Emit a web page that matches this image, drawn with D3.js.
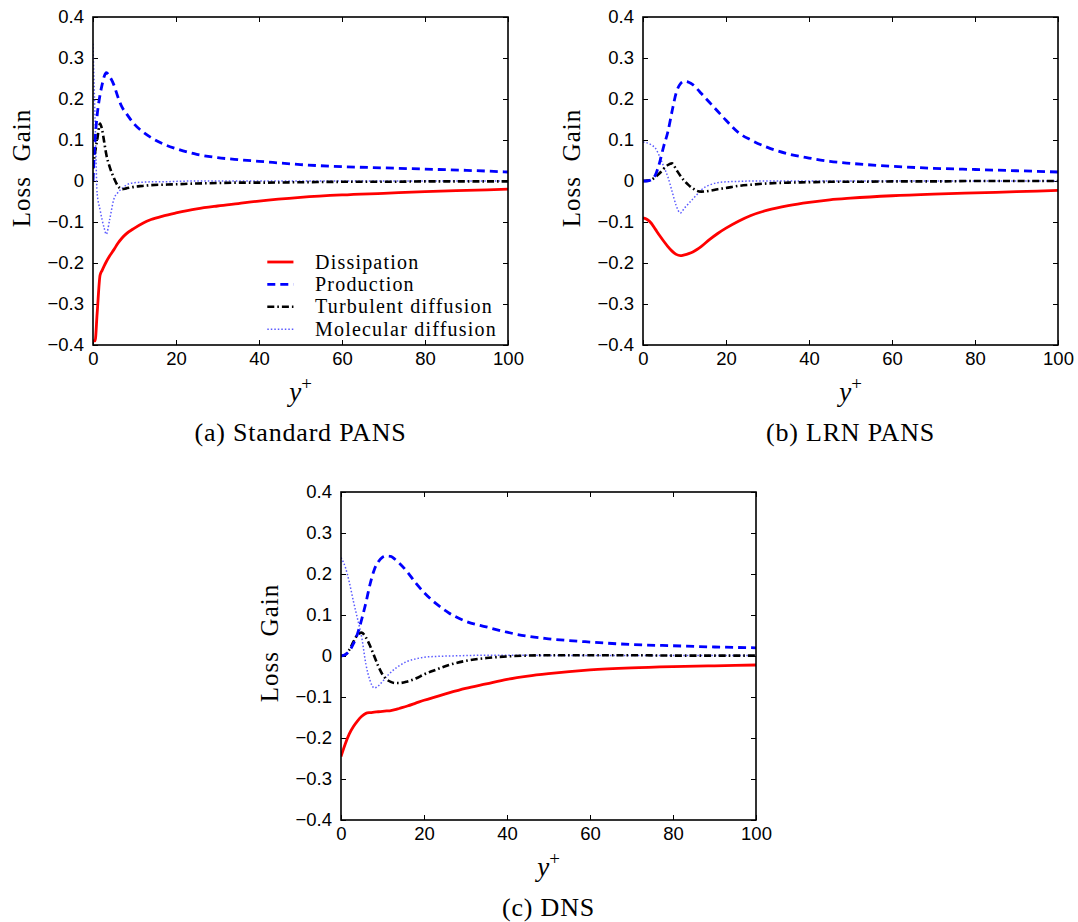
<!DOCTYPE html>
<html>
<head>
<meta charset="utf-8">
<script src="https://cdn.jsdelivr.net/npm/d3@7/dist/d3.min.js"></script>
<style>
  html, body { margin: 0; padding: 0; background: #fff; }
  svg { display: block; }
</style>
</head>
<body>
<div id="chart"></div>
<script>
// ---------------- DATA ----------------
const seriesNames = ["Dissipation", "Production", "Turbulent diffusion", "Molecular diffusion"];
const xTicks = [0, 20, 40, 60, 80, 100];
const yTicks = [-0.4, -0.3, -0.2, -0.1, 0, 0.1, 0.2, 0.3, 0.4];
const captions = ["(a) Standard PANS", "(b) LRN PANS", "(c) DNS"];

// (a) Standard PANS
const yPlusA = [0, 0.5, 1, 1.7, 2.2, 2.7, 3.2, 4, 5, 6, 7, 8, 10, 12, 14, 17, 20, 25, 30, 35, 40, 50, 60, 70, 80, 90, 100];
const dissA = [-0.39, -0.39, -0.323, -0.23, -0.218, -0.207, -0.197, -0.183, -0.168, -0.152, -0.139, -0.129, -0.115, -0.103, -0.094, -0.085, -0.078, -0.068, -0.061, -0.055, -0.049, -0.040, -0.034, -0.030, -0.026, -0.023, -0.020];
const prodA = [0, 0.1, 0.16, 0.21, 0.235, 0.255, 0.264, 0.255, 0.235, 0.205, 0.18, 0.165, 0.138, 0.12, 0.106, 0.09, 0.079, 0.065, 0.057, 0.052, 0.048, 0.040, 0.035, 0.032, 0.029, 0.026, 0.022];
const turbA = [0.03, 0.07, 0.1, 0.14, 0.125, 0.095, 0.065, 0.035, 0.008, -0.012, -0.02, -0.018, -0.014, -0.012, -0.010, -0.009, -0.008, -0.006, -0.005, -0.004, -0.004, -0.003, -0.002, -0.002, -0.001, -0.001, -0.001];
const molA = [0.335, 0.15, -0.03, -0.07, -0.095, -0.115, -0.13, -0.095, -0.045, -0.028, -0.018, -0.010, -0.004, -0.003, -0.002, -0.002, -0.001, 0, 0, 0, 0, 0, 0, 0, 0, 0, 0];

// (b) LRN PANS
const yPlusB = [0, 1, 2, 3, 4, 5, 6, 7, 8, 9, 10, 11, 12, 13, 14, 16, 18, 20, 23, 26, 30, 35, 40, 45, 50, 60, 70, 80, 90, 100];
const dissB = [-0.09, -0.094, -0.103, -0.118, -0.133, -0.147, -0.16, -0.171, -0.179, -0.182, -0.18, -0.177, -0.173, -0.167, -0.16, -0.143, -0.128, -0.115, -0.098, -0.084, -0.071, -0.06, -0.052, -0.046, -0.042, -0.036, -0.032, -0.029, -0.026, -0.023];
const prodB = [0, 0, 0.003, 0.015, 0.045, 0.085, 0.12, 0.17, 0.215, 0.237, 0.243, 0.241, 0.235, 0.225, 0.214, 0.192, 0.17, 0.148, 0.118, 0.1, 0.082, 0.066, 0.056, 0.048, 0.043, 0.036, 0.031, 0.028, 0.025, 0.022];
const turbB = [0, 0.001, 0.003, 0.01, 0.019, 0.03, 0.039, 0.043, 0.028, 0.013, 0, -0.01, -0.018, -0.024, -0.026, -0.024, -0.02, -0.017, -0.012, -0.009, -0.006, -0.004, -0.003, -0.002, -0.002, -0.001, -0.001, 0, 0, 0];
const molB = [0.095, 0.093, 0.088, 0.08, 0.06, 0.035, 0.01, -0.025, -0.06, -0.078, -0.066, -0.055, -0.044, -0.033, -0.022, -0.01, -0.004, -0.002, -0.001, 0, 0, 0, 0, 0, 0, 0, 0, 0, 0, 0];

// (c) DNS
const yPlusC = [0, 1, 2, 3, 4, 5, 6, 7, 8, 9, 10, 11, 12, 13, 14, 16, 18, 20, 23, 26, 30, 35, 40, 45, 50, 60, 70, 80, 90, 100];
const dissC = [-0.245, -0.215, -0.19, -0.172, -0.158, -0.147, -0.14, -0.138, -0.137, -0.136, -0.135, -0.134, -0.133, -0.131, -0.128, -0.122, -0.115, -0.108, -0.099, -0.09, -0.079, -0.068, -0.057, -0.049, -0.043, -0.034, -0.029, -0.026, -0.024, -0.022];
const prodC = [0, 0.003, 0.012, 0.03, 0.055, 0.09, 0.13, 0.175, 0.21, 0.23, 0.241, 0.244, 0.243, 0.236, 0.227, 0.205, 0.178, 0.155, 0.127, 0.105, 0.085, 0.071, 0.058, 0.048, 0.042, 0.034, 0.028, 0.025, 0.022, 0.02];
const turbC = [0, 0.003, 0.015, 0.035, 0.052, 0.057, 0.045, 0.025, 0, -0.025, -0.045, -0.057, -0.063, -0.066, -0.066, -0.062, -0.055, -0.045, -0.033, -0.022, -0.012, -0.005, -0.001, 0.001, 0.002, 0.002, 0.002, 0.001, 0.001, 0.001];
const molC = [0.24, 0.218, 0.18, 0.133, 0.09, 0.045, -0.02, -0.06, -0.078, -0.073, -0.062, -0.05, -0.04, -0.031, -0.024, -0.013, -0.007, -0.003, -0.001, 0, 0.001, 0.002, 0.002, 0.002, 0.001, 0.001, 0.001, 0.001, 0.001, 0.001];

// ---------------- STYLE ----------------
const seriesStyles = [
  { color: "#ff0000", width: 2.8, dash: null },
  { color: "#0000ff", width: 2.8, dash: "8,5" },
  { color: "#000000", width: 2.6, dash: "7,3,1.6,3" },
  { color: "#5a5aff", width: 1.5, dash: "1.5,2" }
];
const tickFont = "'Liberation Sans', Arial, Helvetica, sans-serif";
const serifFont = "'Liberation Serif', 'Times New Roman', serif";

const W = 1078, H = 922;
const plotW = 415, plotH = 328;

const panels = [
  { left: 93, top: 17, x: yPlusA, ys: [dissA, prodA, turbA, molA], caption: captions[0], legend: true },
  { left: 643, top: 17, x: yPlusB, ys: [dissB, prodB, turbB, molB], caption: captions[1], legend: false },
  { left: 341, top: 492, x: yPlusC, ys: [dissC, prodC, turbC, molC], caption: captions[2], legend: false }
];

const svg = d3.select("#chart").append("svg")
  .attr("width", W).attr("height", H)
  .attr("viewBox", `0 0 ${W} ${H}`);

svg.append("rect").attr("width", W).attr("height", H).attr("fill", "#fff");

const fmt = d => d === 0 ? "0" : d3.format(".1f")(d);

panels.forEach((p, pi) => {
  const g = svg.append("g").attr("transform", `translate(${p.left},${p.top})`);
  const x = d3.scaleLinear().domain([0, 100]).range([0, plotW]);
  const y = d3.scaleLinear().domain([-0.4, 0.4]).range([plotH, 0]);

  const clipId = "clip" + pi;
  g.append("clipPath").attr("id", clipId)
    .append("rect").attr("x", 0).attr("y", 0).attr("width", plotW).attr("height", plotH);

  const styleAxis = sel => {
    sel.select(".domain").remove();
    sel.selectAll(".tick line").attr("stroke", "#000").attr("stroke-width", 1);
    sel.selectAll(".tick text").attr("fill", "#000")
      .style("font-family", tickFont).style("font-size", "18.5px");
  };
  g.append("g").attr("transform", `translate(0,${plotH})`)
    .call(d3.axisBottom(x).tickValues(xTicks).tickFormat(d3.format("d"))
      .tickSizeInner(-5).tickSizeOuter(0).tickPadding(7))
    .call(styleAxis);
  g.append("g")
    .call(d3.axisTop(x).tickValues(xTicks).tickFormat("")
      .tickSizeInner(-5).tickSizeOuter(0))
    .call(styleAxis);
  g.append("g")
    .call(d3.axisLeft(y).tickValues(yTicks).tickFormat(fmt)
      .tickSizeInner(-5).tickSizeOuter(0).tickPadding(9))
    .call(styleAxis);
  g.append("g").attr("transform", `translate(${plotW},0)`)
    .call(d3.axisRight(y).tickValues(yTicks).tickFormat("")
      .tickSizeInner(-5).tickSizeOuter(0))
    .call(styleAxis);

  const lineGen = d3.line()
    .x(d => x(d[0])).y(d => y(d[1]))
    .curve(d3.curveMonotoneX);
  const lg = g.append("g").attr("clip-path", `url(#${clipId})`);
  [3, 2, 1, 0].forEach(si => {
    const st = seriesStyles[si];
    const data = p.x.map((xv, i) => [xv, p.ys[si][i]]);
    lg.append("path").datum(data)
      .attr("fill", "none")
      .attr("stroke", st.color)
      .attr("stroke-width", st.width)
      .attr("stroke-dasharray", st.dash)
      .attr("stroke-linejoin", "round")
      .attr("d", lineGen);
  });

  g.append("rect").attr("x", 0).attr("y", 0).attr("width", plotW).attr("height", plotH)
    .attr("fill", "none").attr("stroke", "#000").attr("stroke-width", 1.6);

  // y label
  g.append("text")
    .attr("transform", `translate(-63,${plotH / 2 - 13}) rotate(-90)`)
    .attr("text-anchor", "middle")
    .style("font-family", serifFont).style("font-size", "25px")
    .style("letter-spacing", "1px")
    .style("white-space", "pre")
    .text("Loss  Gain");

  // x label y+
  const xl = g.append("text")
    .attr("x", plotW / 2).attr("y", plotH + 56)
    .attr("text-anchor", "middle")
    .style("font-family", serifFont).style("font-size", "27px");
  xl.append("tspan").style("font-style", "italic").text("y");
  xl.append("tspan").attr("dy", -11).style("font-size", "19px").text("+");

  // caption
  g.append("text")
    .attr("x", plotW / 2).attr("y", plotH + 96)
    .attr("text-anchor", "middle")
    .style("font-family", serifFont).style("font-size", "26px")
    .style("letter-spacing", "0.8px")
    .text(p.caption);

  // legend
  if (p.legend) {
    const lx0 = x(42), lx1 = x(48.3), tx = x(53.5);
    const legTop = y(-0.2) - 1;
    seriesNames.forEach((name, si) => {
      const st = seriesStyles[si];
      const cy = legTop + si * 22.4;
      g.append("line").attr("x1", lx0).attr("x2", lx1).attr("y1", cy).attr("y2", cy)
        .attr("stroke", st.color).attr("stroke-width", st.width)
        .attr("stroke-dasharray", st.dash);
      g.append("text").attr("x", tx).attr("y", cy + 6.5)
        .style("font-family", serifFont).style("font-size", "20px")
        .style("letter-spacing", "1.2px")
        .text(name);
    });
  }
});
</script>
</body>
</html>
